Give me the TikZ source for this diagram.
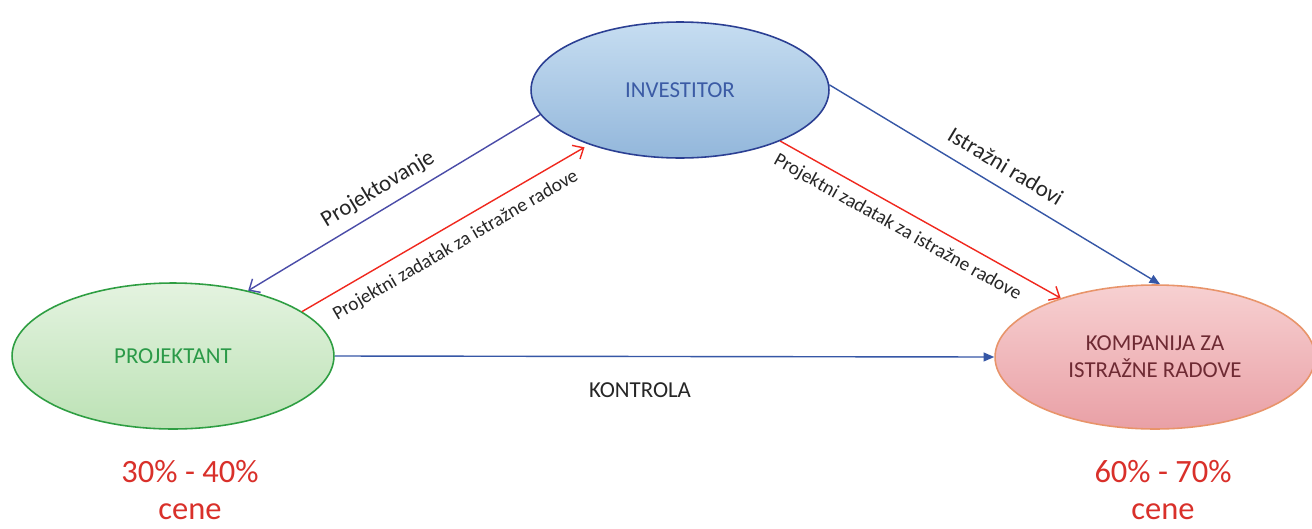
\documentclass[tikz,border=0pt]{standalone}
\usepackage{fontspec}
\setmainfont{Carlito}
\usetikzlibrary{shapes.geometric,arrows.meta}

\definecolor{invFillTop}{HTML}{C6DDF1}
\definecolor{invFillBot}{HTML}{93B7DB}
\definecolor{invLine}{HTML}{2B3F93}
\definecolor{invText}{HTML}{3B5BA5}
\definecolor{proFillTop}{HTML}{E4F3E0}
\definecolor{proFillBot}{HTML}{BCE2B5}
\definecolor{proLine}{HTML}{2E9E42}
\definecolor{proText}{HTML}{2B9A48}
\definecolor{komFillTop}{HTML}{F7D0D1}
\definecolor{komFillBot}{HTML}{E9A0A6}
\definecolor{komLine}{HTML}{E8946A}
\definecolor{komText}{HTML}{6E2A33}
\definecolor{flowBlue}{HTML}{3657A6}
\definecolor{flowViolet}{HTML}{4A4CA8}
\definecolor{flowRed}{HTML}{F0281E}
\definecolor{shareRed}{HTML}{D9302A}
\definecolor{labelGray}{HTML}{262626}

\tikzset{
  party/.style={ellipse, draw, line width=0.9pt, inner sep=0pt,
    align=center, font=\fontsize{13}{15.5}\selectfont},
  bluearrow/.style={draw=flowBlue, line width=0.8pt,
    -{Triangle[length=6pt,width=5pt]}},
  openarrow/.style={line width=0.8pt, -{Straight Barb[length=5pt,width=9pt]}},
  flowlabel/.style={sloped, text=labelGray, font=\fontsize{13}{15}\selectfont},
  tasklabel/.style={sloped, text=labelGray, font=\fontsize{11}{13}\selectfont},
  share/.style={text=shareRed, align=center,
    font=\fontsize{18.5}{21.5}\selectfont}
}

\begin{document}
\begin{tikzpicture}[x=0.02cm, y=-0.02cm]
  \useasboundingbox (0,0) rectangle (1312,528);
  \fill[white] (0,0) rectangle (1312,528);

  % the three parties
  \node[party, draw=invLine, top color=invFillTop, bottom color=invFillBot,
        text=invText, minimum width=5.96cm, minimum height=2.72cm]
        (inv) at (680,90) {INVESTITOR};
  \node[party, draw=proLine, top color=proFillTop, bottom color=proFillBot,
        text=proText, minimum width=6.44cm, minimum height=2.92cm]
        (pro) at (173,356) {PROJEKTANT};
  \node[party, draw=komLine, top color=komFillTop, bottom color=komFillBot,
        text=komText, minimum width=6.4cm, minimum height=2.88cm]
        (kom) at (1155,357) {KOMPANIJA ZA\\ISTRAŽNE RADOVE};

  % investor <-> designer
  \draw[openarrow, draw=flowViolet, {Straight Barb[length=5pt,width=9pt]}-]
    (pro.41) -- node[flowlabel, above=2pt, pos=0.48] {Projektovanje} (inv.190);
  \draw[openarrow, draw=flowRed, shorten >=3pt]
    (pro.19) -- node[tasklabel, below=3pt, pos=0.5]
      {Projektni zadatak za istražne radove} (inv.211);

  % investor -> exploration company
  \draw[bluearrow] (inv.2) --
    node[flowlabel, above=4pt, pos=0.5] {Istražni radovi} (kom.86);
  \draw[openarrow, draw=flowRed]
    (inv.333) -- node[tasklabel, below=2pt, pos=0.45]
      {Projektni zadatak za istražne radove} (kom.148);

  % designer -> exploration company
  \draw[bluearrow] (pro.east) -- (kom.west);
  \node[text=labelGray, font=\fontsize{13}{15}\selectfont]
    (kontrola) at (640,390) {KONTROLA};

  % price shares
  \node[share] (sharePro) at (190,490) {30\% - 40\%\\cene};
  \node[share] (shareKom) at (1163,490) {60\% - 70\%\\cene};
\end{tikzpicture}
\end{document}
